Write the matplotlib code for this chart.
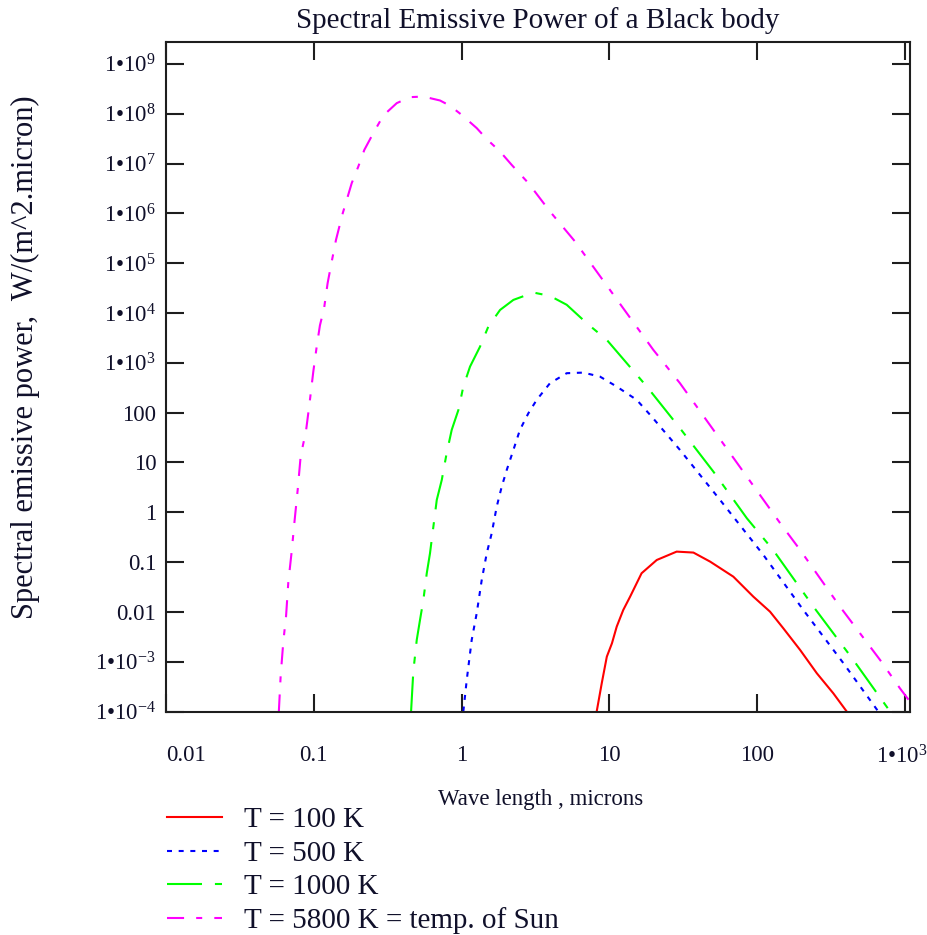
import matplotlib
matplotlib.use("Agg")
import matplotlib.pyplot as plt
from matplotlib.transforms import ScaledTranslation

# values (wavelength in microns, power in W/(m^2 micron))
wl_100 = [8.2, 8.87, 9.6, 10.4, 11.2, 12.4, 13.8, 16.5, 20.9, 28.5, 37, 48, 68.9,
          94.1, 122, 150, 195, 253, 327, 403]
ep_100 = [1e-4, 3.68e-4, 1.26e-3, 2.34e-3, 5.05e-3, 0.0109, 0.0202, 0.0596, 0.110,
          0.162, 0.155, 0.102, 0.0509, 0.0202, 0.0101, 4.69e-3, 1.72e-3, 5.85e-4,
          2.32e-4, 1e-4]

wl_500 = [1.027, 1.083, 1.17, 1.265, 1.368, 1.479, 1.598, 1.728, 1.868, 2.02, 2.24,
          2.48, 2.83, 3.22, 3.96, 5.14, 6.66, 8.63, 11.2, 15.3, 19.3, 30, 56, 110,
          205, 383, 659]
ep_500 = [1e-4, 4.29e-4, 2.73e-3, 9.4e-3, 0.0438, 0.150, 0.379, 1.30, 3.27, 7.07,
          17.8, 45, 97.3, 180, 389, 618, 635, 528, 333, 180, 83.2, 17.8, 1.77,
          0.139, 0.0109, 9.3e-4, 1e-4]

wl_1000 = [0.455, 0.471, 0.497, 0.523, 0.551, 0.581, 0.611, 0.644, 0.679, 0.734,
           0.792, 0.857, 0.951, 1.027, 1.14, 1.332, 1.516, 1.82, 2.24, 3.06, 3.96,
           5.14, 7.02, 9.6, 13.1, 17.9, 30, 50.5, 85, 128, 240, 447, 792]
ep_1000 = [1e-4, 6.3e-4, 2.73e-3, 6.9e-3, 0.0173, 0.0596, 0.150, 0.514, 1.77, 4.45,
           15.3, 45, 113, 333, 839, 2110, 5330, 1.15e4, 1.83e4, 2.57e4, 2.2e4,
           1.46e4, 6240, 2880, 982, 333, 48.6, 6.53, 0.759, 0.175, 0.0127,
           1.08e-3, 1e-4]

wl_5800 = [0.058, 0.0597, 0.0622, 0.0649, 0.0672, 0.0709, 0.0738, 0.0778, 0.0815,
           0.0886, 0.0932, 0.0992, 0.1046, 0.110, 0.1173, 0.124, 0.1322, 0.1413,
           0.157, 0.1696, 0.1805, 0.200, 0.2197, 0.2527, 0.2953, 0.364, 0.448,
           0.551, 0.715, 0.835, 1.0, 1.265, 1.479, 1.82, 2.18, 2.83, 3.96, 5.85,
           8.2, 11.5, 19.8, 30, 50.5, 85, 143, 195, 363, 678, 925, 1081]
ep_5800 = [1e-4, 5.36e-4, 2.55e-3, 8.2e-3, 0.0389, 0.167, 0.596, 2.83, 13.5, 43.4,
           140, 663, 2120, 5640, 1.23e4, 3.97e4, 1.08e5, 2.94e5, 1.01e6, 2.17e6,
           4.04e6, 8.7e6, 1.88e7, 4.08e7, 9.2e7, 1.63e8, 2.15e8, 2.21e8, 1.84e8,
           1.44e8, 9.5e7, 5.14e7, 3.09e7, 1.74e7, 9.4e6, 4.04e6, 1.09e6, 2.72e5,
           6.78e4, 1.69e4, 1.82e3, 389, 45, 5.19, 0.601, 0.175, 0.0127, 1.08e-3,
           2.9e-4, 1.57e-4]

x_ticks = [0.01, 0.1, 1, 10, 100, 1000]
x_labels = ["0.01", "0.1", "1", "10", "100", r"$\mathrm{1•10}^{3}$"]
y_ticks = [1e-4, 1e-3, 0.01, 0.1, 1, 10, 100, 1e3, 1e4, 1e5, 1e6, 1e7, 1e8, 1e9]
y_labels = [r"$\mathrm{1•10}^{-4}$", r"$\mathrm{1•10}^{-3}$", "0.01", "0.1", "1",
            "10", "100", r"$\mathrm{1•10}^{3}$", r"$\mathrm{1•10}^{4}$",
            r"$\mathrm{1•10}^{5}$", r"$\mathrm{1•10}^{6}$", r"$\mathrm{1•10}^{7}$",
            r"$\mathrm{1•10}^{8}$", r"$\mathrm{1•10}^{9}$"]

plt.rcParams["font.family"] = ["Liberation Serif", "DejaVu Serif"]
plt.rcParams["mathtext.fontset"] = "custom"
plt.rcParams["mathtext.rm"] = "Liberation Serif"
plt.rcParams["mathtext.it"] = "Liberation Serif:italic"
plt.rcParams["mathtext.bf"] = "Liberation Serif:bold"

text_col = "#10102a"
axis_col = "#1e1e1e"

fig = plt.figure(figsize=(9.28, 9.35), dpi=100)
ax = fig.add_axes([166 / 928, 1 - 711.5 / 935, 744 / 928, 669.5 / 935])

ax.plot(wl_100, ep_100, color="#ff0000", lw=1.5, label="T = 100 K")
ax.plot(wl_500, ep_500, color="#0000ff", lw=1.5, linestyle=(0, (2.4, 3.2)),
        label="T = 500 K")
ax.plot(wl_1000, ep_1000, color="#00ff00", lw=1.5,
        linestyle=(0, (16.8, 6.2, 3.4, 6.2)), label="T = 1000 K")
ax.plot(wl_5800, ep_5800, color="#ff00ff", lw=1.5,
        linestyle=(0, (8.2, 5.8, 2.9, 5.8)), label="T = 5800 K = temp. of Sun")

ax.set_xscale("log")
ax.set_yscale("log")
ax.set_xlim(0.01, 1080)
ax.set_ylim(1e-4, 2.75e9)
ax.minorticks_off()

ax.set_xticks(x_ticks, x_labels)
ax.set_yticks(y_ticks, y_labels)
ax.tick_params(axis="both", which="major", direction="in", length=13, width=1.5,
               color=axis_col, labelsize=16.5, labelcolor=text_col,
               top=True, right=True)
ax.tick_params(axis="x", pad=24)
ax.tick_params(axis="y", pad=7)

# Mathcad keeps the end labels inside the plot width
first = ax.get_xticklabels()[0]
first.set_ha("left")
last = ax.get_xticklabels()[-1]
last.set_transform(last.get_transform() + ScaledTranslation(-2 / 72, 0, fig.dpi_scale_trans))

for sp in ax.spines.values():
    sp.set_linewidth(1.5)
    sp.set_color(axis_col)

ax.set_title("Spectral Emissive Power of a Black body", fontsize=21,
             color=text_col, pad=10)
ax.set_ylabel("Spectral emissive power,  W/(m^2.micron)", fontsize=22,
              color=text_col)
ax.yaxis.set_label_coords(-0.1895, 0.5295)
ax.yaxis.label.set_va("center")
ax.set_xlabel("Wave length , microns", fontsize=16.5, color=text_col)
ax.xaxis.set_label_coords(0.504, -0.132)
ax.xaxis.label.set_va("center")

fig.legend(loc="upper left", bbox_to_anchor=(167 / 928, 1 - 807 / 935),
           frameon=False, fontsize=21, handlelength=1.9, handletextpad=0.75,
           labelspacing=0.24, borderpad=0, borderaxespad=0,
           labelcolor=text_col)

fig.savefig("out.png", dpi=100)
